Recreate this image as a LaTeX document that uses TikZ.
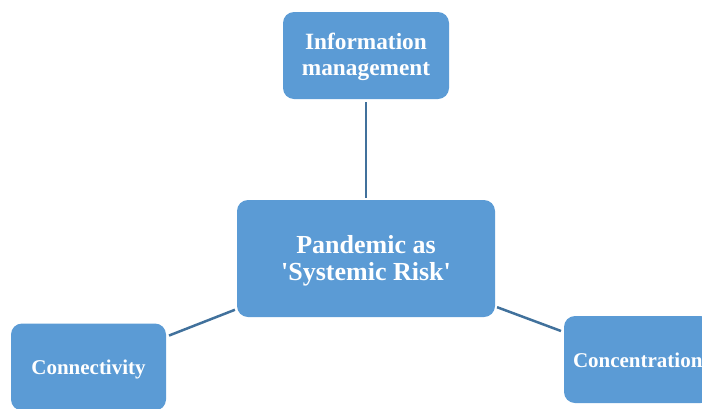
\documentclass[tikz,border=0pt]{standalone}
\usepackage{fontspec}
\setmainfont{Liberation Serif}
\definecolor{boxfill}{HTML}{5B9BD5}
\definecolor{linkcol}{HTML}{41719C}
% centred text lowered by #1 without changing its reported size
\newcommand{\lowertext}[2]{\raisebox{-#1}[\height][\depth]{\begin{tabular}{@{}c@{}}#2\end{tabular}}}
\begin{document}
\begin{tikzpicture}[x=1pt,y=-1pt,
  topic/.style={rectangle, rounded corners=11pt, fill=boxfill, draw=none,
    text=white, font=\bfseries, inner sep=0pt},
  link/.style={draw=linkcol, line width=2.5pt, shorten <=2pt, shorten >=3pt}]
\useasboundingbox (0,0) rectangle (702,408);
\clip (0,0) rectangle (702,408);
% hub and the three surrounding themes
\node[topic, minimum width=258pt, minimum height=117pt,
  font=\bfseries\fontsize{26}{27.5}\selectfont] (hub) at (366,258.5)
  {\lowertext{3pt}{Pandemic as\\\textquotesingle Systemic Risk\textquotesingle}};
\node[topic, minimum width=166pt, minimum height=87pt,
  font=\bfseries\fontsize{23.3}{26}\selectfont] (info) at (366,55.5)
  {\lowertext{2pt}{Information\\management}};
\node[topic, minimum width=155pt, minimum height=87pt,
  font=\bfseries\fontsize{21}{24}\selectfont] (conn) at (88.5,367)
  {\lowertext{2.5pt}{Connectivity}};
\node[topic, minimum width=147.5pt, minimum height=87pt,
  font=\bfseries\fontsize{21}{24}\selectfont] (conc) at (637.75,359.5)
  {\lowertext{3.5pt}{Concentration}};
% spokes
\draw[link] (hub) -- (info);
\draw[link] (hub) -- (conn);
\draw[link] (hub) -- (conc);
\end{tikzpicture}
\end{document}
